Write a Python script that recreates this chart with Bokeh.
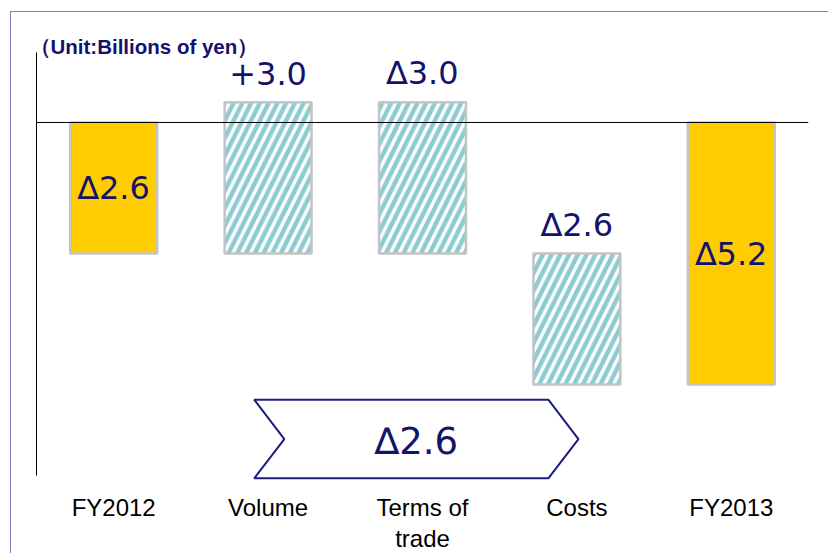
from bokeh.plotting import figure
from bokeh.models import Range1d, FactorRange, Span, Label, ColumnDataSource
from bokeh.embed import file_html
from bokeh.resources import INLINE
from bokeh.core.properties import value

# ---- data ----
categories = ["FY2012", "Volume", "Terms of\ntrade", "Costs", "FY2013"]
changes = [-2.6, 3.0, -3.0, -2.6, -5.2]
kinds = ["total", "delta", "delta", "delta", "total"]
value_labels = ["\u22062.6", "+3.0", "\u22063.0", "\u22062.6", "\u22065.2"]
unit_text = "\uff08Unit:Billions of yen\uff09"

# ---- waterfall geometry from the data ----
bottoms, tops = [], []
running = 0.0
for c, k in zip(changes, kinds):
    if k == "total":
        start, end = 0.0, c
    else:
        start, end = running, running + c
    running = end
    bottoms.append(min(start, end))
    tops.append(max(start, end))

delta_sum = sum(c for c, k in zip(changes, kinds) if k == "delta")
summary_label = ("\u2206" if delta_sum < 0 else "+") + f"{abs(delta_sum):.1f}"

NAVY = "#13136C"
YELLOW = "#FFCC00"
HATCH = "#8CCBD1"
EDGE = "#C4C4C4"

p = figure(width=818, height=542,
           x_range=FactorRange(*categories),
           y_range=Range1d(-7.103, 1.825),
           output_backend="svg", toolbar_location=None,
           min_border_left=25, min_border_right=21,
           min_border_top=18, min_border_bottom=74)
p.margin = (11, 0, 0, 10)
p.styles = {"border-top": "1px solid #8080C0", "border-left": "1px solid #8080C0"}
p.background_fill_color = "white"
p.border_fill_color = "white"
p.outline_line_color = None
p.grid.visible = False

tot = [i for i, k in enumerate(kinds) if k == "total"]
dlt = [i for i, k in enumerate(kinds) if k == "delta"]

src_tot = ColumnDataSource(dict(x=[categories[i] for i in tot],
                                bottom=[bottoms[i] for i in tot],
                                top=[tops[i] for i in tot]))
src_dlt = ColumnDataSource(dict(x=[categories[i] for i in dlt],
                                bottom=[bottoms[i] for i in dlt],
                                top=[tops[i] for i in dlt]))

p.vbar(x="x", bottom="bottom", top="top", width=0.563, source=src_tot,
       fill_color=YELLOW, line_color=EDGE, line_width=2.5)
p.vbar(x="x", bottom="bottom", top="top", width=0.563, source=src_dlt,
       fill_color="white", line_color=EDGE, line_width=2.5,
       hatch_pattern="/", hatch_color=HATCH, hatch_scale=17.5, hatch_weight=4.5)

p.add_layout(Span(location=0, dimension="width", line_color="black", line_width=1))

# value labels
lab_y, lab_off = [], []
for i, k in enumerate(kinds):
    if k == "total":
        lab_y.append((bottoms[i] + tops[i]) / 2)
        lab_off.append(0)
    else:
        lab_y.append(tops[i])
        lab_off.append(-29)
p.text(x=categories, y=lab_y, text=value_labels, y_offset=lab_off,
       text_font=value("DejaVu Sans"), text_font_size=value("32px"),
       text_color=NAVY, text_align="center", text_baseline="alphabetic")

# summary chevron
CHEV_LEFT, CHEV_RIGHT, CHEV_DEPTH = 1.41, 3.51, 0.195
CHEV_TOP, CHEV_BOTTOM = -5.5, -7.06
mid = (CHEV_TOP + CHEV_BOTTOM) / 2
p.patch(x=[CHEV_LEFT, CHEV_RIGHT - CHEV_DEPTH, CHEV_RIGHT, CHEV_RIGHT - CHEV_DEPTH,
           CHEV_LEFT, CHEV_LEFT + CHEV_DEPTH],
        y=[CHEV_TOP, CHEV_TOP, mid, CHEV_BOTTOM, CHEV_BOTTOM, mid],
        fill_color="white", line_color="#1C1C80", line_width=2)
p.text(x=[(CHEV_LEFT + CHEV_DEPTH + CHEV_RIGHT - CHEV_DEPTH) / 2], y=[mid],
       text=[summary_label], y_offset=[2],
       text_font=value("DejaVu Sans"), text_font_size=value("37px"),
       text_color=NAVY, text_align="center", text_baseline="alphabetic")

# unit note
p.add_layout(Label(x=0, y=1.508, x_offset=-7, text=unit_text,
                   text_font="Liberation Sans", text_font_style="bold",
                   text_font_size="20.5px", text_color=NAVY,
                   text_baseline="alphabetic"))

# axes
p.yaxis.ticker = []
p.yaxis.bounds = (-7.0, 1.39)
p.yaxis.axis_line_color = "black"
p.yaxis.axis_line_width = 1
p.yaxis.major_tick_line_color = None
p.yaxis.minor_tick_line_color = None

p.xaxis.axis_line_color = None
p.xaxis.major_tick_line_color = None
p.xaxis.minor_tick_line_color = None
p.xaxis.major_tick_in = 0
p.xaxis.major_tick_out = 0
p.xaxis.major_label_standoff = 13
p.xaxis.major_label_text_font = "Liberation Sans"
p.xaxis.major_label_text_font_size = "24px"
p.xaxis.major_label_text_color = "black"
p.xaxis.major_label_text_line_height = 1.15

open("out.html", "w").write(file_html(p, INLINE))
